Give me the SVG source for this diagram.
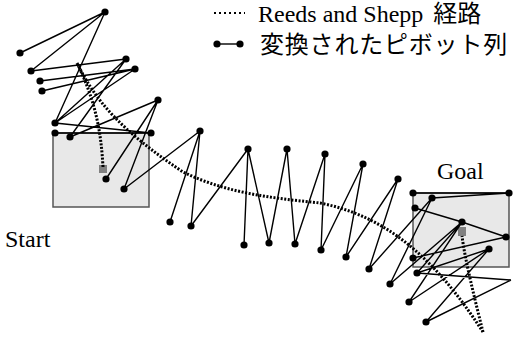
<svg xmlns="http://www.w3.org/2000/svg" width="514" height="338" viewBox="0 0 514 338">
<style>
.t{font-family:"Liberation Serif","Noto Sans CJK JP",serif;font-size:24px;fill:#000}
.j{font-family:"Liberation Serif","Noto Sans CJK JP",serif;font-size:24px;letter-spacing:0.8px;fill:#000}
.area{fill:#e8e8e8;stroke:#555;stroke-width:1.5}
.sq{fill:#808080}
.e{stroke:#000;stroke-width:1.4;fill:none}
.rs{stroke:#000;stroke-width:3;stroke-dasharray:2 1.6;fill:none}
.n{fill:#000}
</style>
<g id="start-area"><rect class="area" x="53" y="133" width="96" height="74"/><rect class="sq" x="99" y="165" width="8" height="8"/></g>
<g id="goal-area"><rect class="area" x="413" y="193" width="96" height="74"/><rect class="sq" x="458" y="227" width="8" height="9"/></g>
<g id="path"><path class="rs" d="M103 167 C101 130 95 100 77 63"/><path class="rs" d="M77 63 C95 100 120 130 183 172 C230 195 283 199 320 203 C380 215 430 250 483 332"/><path class="rs" d="M483 332 C475 300 465 260 462 236"/></g>
<g id="connectors">
<path class="e" d="M105 12L20 53M105 12L31 71M105 12L55 123M31 71L126 59M40 81L135 69M42 91L135 69M55 123L126 59M55 123L135 69M55 123L151 133M55 133L151 133M70 137L158 100M70 137L126 59M158 100L106 179M158 100L124 189M124 189L200 131M200 131L170 222M200 131L191 226M191 226L248 149M248 149L244 245M248 149L269 243M269 243L287 149M287 149L295 244M295 244L325 154M325 154L321 250M321 250L363 164M363 164L346 257M346 257L398 179M398 179L369 269M369 269L432 198M432 198L390 284M432 198L509 193M413 193L509 193M390 284L462 222M462 222L409 302M415 208L462 222M462 222L506 237M506 237L413 258M409 302L489 249M417 273L489 249M417 273L511 280M511 280L426 322M426 322L489 249M462 222L417 273"/>
</g>
<g id="nodes" class="n">
<circle cx="105" cy="12" r="3.6"/><circle cx="20" cy="53" r="3.6"/><circle cx="31" cy="71" r="3.6"/><circle cx="40" cy="81" r="3.6"/><circle cx="42" cy="91" r="3.6"/><circle cx="126" cy="59" r="3.6"/><circle cx="135" cy="69" r="3.6"/><circle cx="158" cy="100" r="3.6"/><circle cx="55" cy="123" r="3.6"/><circle cx="55" cy="133" r="3.6"/><circle cx="70" cy="137" r="3.6"/><circle cx="151" cy="133" r="3.6"/><circle cx="106" cy="179" r="3.6"/><circle cx="124" cy="189" r="3.6"/><circle cx="170" cy="222" r="3.6"/><circle cx="200" cy="131" r="3.6"/><circle cx="191" cy="226" r="3.6"/><circle cx="248" cy="149" r="3.6"/><circle cx="244" cy="245" r="3.6"/><circle cx="269" cy="243" r="3.6"/><circle cx="287" cy="149" r="3.6"/><circle cx="295" cy="244" r="3.6"/><circle cx="325" cy="154" r="3.6"/><circle cx="321" cy="250" r="3.6"/><circle cx="346" cy="257" r="3.6"/><circle cx="363" cy="164" r="3.6"/><circle cx="398" cy="179" r="3.6"/><circle cx="369" cy="269" r="3.6"/><circle cx="390" cy="284" r="3.6"/><circle cx="409" cy="302" r="3.6"/><circle cx="426" cy="322" r="3.6"/><circle cx="413" cy="193" r="3.6"/><circle cx="432" cy="198" r="3.6"/><circle cx="415" cy="208" r="3.6"/><circle cx="509" cy="193" r="3.6"/><circle cx="462" cy="222" r="3.6"/><circle cx="506" cy="237" r="3.6"/><circle cx="489" cy="249" r="3.6"/><circle cx="413" cy="258" r="3.6"/><circle cx="417" cy="273" r="3.6"/>
</g>
<g id="legend">
<line x1="214" y1="13" x2="245" y2="13" style="stroke:#000;stroke-width:2;stroke-dasharray:2 3"/>
<text class="t" x="258" y="22">Reeds and Shepp <tspan dx="4">経路</tspan></text>
<line class="e" x1="217" y1="44" x2="240" y2="44"/><circle class="n" cx="217" cy="44" r="3.6"/><circle class="n" cx="240" cy="44" r="3.6"/>
<text class="j" x="260" y="53">変換されたピボット列</text>
</g>
<text class="t" x="437" y="179">Goal</text>
<text class="t" x="5" y="247">Start</text>
</svg>
